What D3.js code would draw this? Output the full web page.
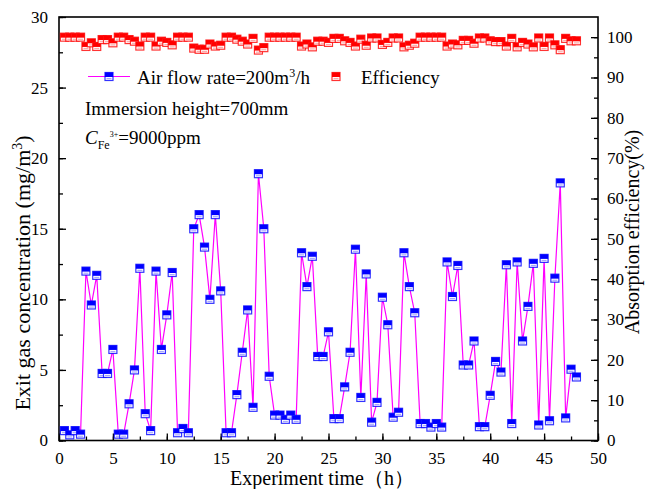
<!DOCTYPE html>
<html>
<head>
<meta charset="utf-8">
<script src="https://cdn.jsdelivr.net/npm/d3@7"></script>
<style>
  body { margin: 0; background: #fff; }
  svg text { font-family: "Liberation Serif", "Times New Roman", serif !important; fill: #000; }
</style>
</head>
<body>
<svg width="646" height="489"></svg>
<script>
// experiment time (h)
const times = [0.5,1,1.5,2,2.5,3,3.5,4,4.5,5,
  5.5,6,6.5,7,7.5,8,8.5,9,9.5,10,
  10.5,11,11.5,12,12.5,13,13.5,14,14.5,15,
  15.5,16,16.5,17,17.5,18,18.5,19,19.5,20,
  20.5,21,21.5,22,22.5,23,23.5,24,24.5,25,
  25.5,26,26.5,27,27.5,28,28.5,29,29.5,30,
  30.5,31,31.5,32,32.5,33,33.5,34,34.5,35,
  35.5,36,36.5,37,37.5,38,38.5,39,39.5,40,
  40.5,41,41.5,42,42.5,43,43.5,44,44.5,45,
  45.5,46,46.5,47,47.5,48];

// exit gas concentration (mg/m3)
const concentration = [0.7,0.4,0.7,0.45,12.0,9.6,11.7,4.75,4.75,6.45,
  0.45,0.45,2.6,5.0,12.2,1.9,0.7,12.0,6.45,8.9,
  11.9,0.55,0.85,0.55,15.0,16.0,13.7,10.0,16.0,10.6,
  0.55,0.55,3.25,6.25,9.25,2.35,18.9,15.0,4.55,1.8,
  1.8,1.5,1.8,1.5,13.3,10.9,13.05,5.95,5.95,7.7,
  1.55,1.55,3.8,6.25,13.55,3.05,11.8,1.3,2.7,10.15,
  8.2,1.65,2.0,13.3,10.9,9.05,1.2,1.2,0.95,1.2,
  0.95,12.65,10.2,12.4,5.35,5.35,7.05,0.98,0.98,3.2,
  5.6,4.85,12.45,1.2,12.65,7.05,9.5,12.55,1.1,12.9,
  1.4,11.5,18.25,1.6,5.05,4.5];

// absorption efficiency (%)
const efficiency = [100,100,100,100,97.7,98.6,97.7,99.4,99.4,98.6,
  100,100,99.4,99.0,97.8,100,100,97.8,99.0,98.7,
  98.1,100,100,100,97.3,97.0,97.0,98.3,97.8,98.0,
  100,100,99.5,99.0,98.3,99.7,96.8,97.4,100,100,
  100,100,100,100,97.8,98.3,97.6,99.0,99.0,98.7,
  99.7,99.7,99.1,98.7,97.8,99.5,98.0,99.8,99.8,98.2,
  98.7,99.8,99.8,97.6,98.0,98.5,100,100,100,100,
  100,97.8,98.3,98.1,99.2,99.2,98.5,99.8,99.8,99.1,
  98.9,98.9,97.8,99.7,97.6,98.7,98.3,97.6,99.8,97.7,
  99.8,98.1,96.9,99.7,99.1,99.1];

const xTicks = [0,5,10,15,20,25,30,35,40,45,50];
const leftTicks = [0,5,10,15,20,25,30];
const rightTicks = [0,10,20,30,40,50,60,70,80,90,100];

const FONT = '"Liberation Serif", "Times New Roman", serif';
const svg = d3.select("svg");
const pL = 59, pR = 598, pT = 17, pB = 440.5;

const x = d3.scaleLinear().domain([0, 50]).range([pL, pR]);
const yL = d3.scaleLinear().domain([0, 30]).range([pB, pT]);
const yR = d3.scaleLinear().domain([0, 105]).range([pB, pT]);

function styleAxis(g) {
  g.attr("font-family", FONT);
  g.select(".domain").remove();
  g.selectAll("line").attr("stroke", "#000").attr("stroke-width", 1.3);
  g.selectAll("text").style("font-family", FONT).style("font-size", "17px");
}

// minor ticks
svg.append("g").attr("transform", `translate(0,${pB})`)
  .call(d3.axisBottom(x).tickValues(d3.range(0, 50.1, 2.5)).tickSize(-4).tickFormat(""))
  .call(styleAxis);
svg.append("g").attr("transform", `translate(${pL},0)`)
  .call(d3.axisLeft(yL).tickValues(d3.range(0, 30.1, 2.5)).tickSize(-4).tickFormat(""))
  .call(styleAxis);
svg.append("g").attr("transform", `translate(${pR},0)`)
  .call(d3.axisRight(yR).tickValues(d3.range(0, 105, 5)).tickSize(-4).tickFormat(""))
  .call(styleAxis);

// major ticks
svg.append("g").attr("transform", `translate(0,${pB})`)
  .call(d3.axisBottom(x).tickValues(xTicks).tickSize(-7).tickPadding(11).tickFormat(d3.format("d")))
  .call(styleAxis);
svg.append("g").attr("transform", `translate(${pL},0)`)
  .call(d3.axisLeft(yL).tickValues(leftTicks).tickSize(-7).tickPadding(11).tickFormat(d3.format("d")))
  .call(styleAxis);
svg.append("g").attr("transform", `translate(${pR},0)`)
  .call(d3.axisRight(yR).tickValues(rightTicks).tickSize(-7).tickPadding(9).tickFormat(d3.format("d")))
  .call(styleAxis);

// frame
svg.append("rect").attr("x", pL).attr("y", pT)
  .attr("width", pR - pL).attr("height", pB - pT)
  .attr("fill", "none").attr("stroke", "#000").attr("stroke-width", 1.6);

// concentration line
const pts = times.map((t, i) => [t, concentration[i]]);
svg.append("path").datum(pts)
  .attr("fill", "none").attr("stroke", "#ff00ff").attr("stroke-width", 1.2)
  .attr("d", d3.line().x(d => x(d[0])).y(d => yL(d[1])));

function marker(g, cx, cy, color) {
  g.append("rect").attr("x", cx - 4).attr("y", cy - 4).attr("width", 8).attr("height", 8)
    .attr("fill", "#fff").attr("stroke", color).attr("stroke-width", 1.2).attr("stroke-opacity", 0.8);
  g.append("rect").attr("x", cx - 4).attr("y", cy - 4).attr("width", 8).attr("height", 4.5)
    .attr("fill", color);
  g.append("rect").attr("x", cx - 2.5).attr("y", cy + 1.5).attr("width", 5).attr("height", 1.2)
    .attr("fill", color).attr("opacity", 0.35);
}

const redG = svg.append("g");
times.forEach((t, i) => marker(redG, x(t), yR(efficiency[i]), "#ff0000"));
const blueG = svg.append("g");
times.forEach((t, i) => marker(blueG, x(t), yL(concentration[i]), "#0000ff"));

// legend
const lg = svg.append("g");
lg.append("line").attr("x1", 88).attr("x2", 130).attr("y1", 76.5).attr("y2", 76.5)
  .attr("stroke", "#ff00ff").attr("stroke-width", 1.2);
marker(lg, 109, 76.5, "#0000ff");
const t1 = lg.append("text").attr("x", 137).attr("y", 83.5).style("font-size", "19px");
t1.append("tspan").text("Air flow rate=200m");
t1.append("tspan").attr("dy", -7).style("font-size", "12px").text("3");
t1.append("tspan").attr("dy", 7).text("/h");
marker(lg, 336, 76.5, "#ff0000");
lg.append("text").attr("x", 361).attr("y", 83.5).style("font-size", "19px").text("Efficiency");

lg.append("text").attr("x", 85).attr("y", 115).style("font-size", "19px").text("Immersion height=700mm");
const t3 = lg.append("text").attr("x", 85).attr("y", 143.5).style("font-size", "19px");
t3.append("tspan").style("font-style", "italic").text("C");
t3.append("tspan").attr("dy", 5).style("font-size", "12px").text("Fe");
t3.append("tspan").attr("dy", -12).style("font-size", "8px").text("3+");
t3.append("tspan").attr("dy", 7).text("=9000ppm");

// axis titles
svg.append("text").attr("x", 322).attr("y", 485)
  .attr("text-anchor", "middle").style("font-size", "20px").text("Experiment time（h）");

const yt = svg.append("text")
  .attr("transform", "translate(30,273) rotate(-90)")
  .attr("text-anchor", "middle").style("font-size", "22px");
yt.append("tspan").text("Exit gas concentration (mg/m");
yt.append("tspan").attr("dy", -8).style("font-size", "14px").text("3");
yt.append("tspan").attr("dy", 8).text(")");

svg.append("text")
  .attr("transform", "translate(639,232) rotate(-90)")
  .attr("text-anchor", "middle").style("font-size", "20px").text("Absorption efficiency(%)");
</script>
</body>
</html>
